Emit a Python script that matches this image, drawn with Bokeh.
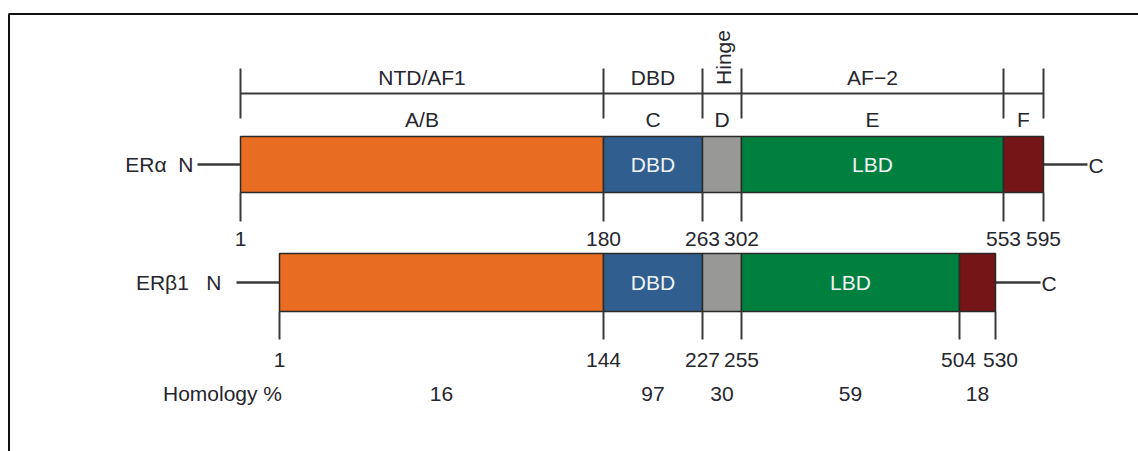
from bokeh.plotting import figure
from bokeh.models import Range1d, ColumnDataSource
from bokeh.core.properties import value
from bokeh.embed import file_html
from bokeh.resources import INLINE

# ---------------- data ----------------
domains = ["A/B", "C", "D", "E", "F"]
functions = ["NTD/AF1", "DBD", "Hinge", "AF\u22122"]
domain_colors = ["#E86C22", "#2F5E8F", "#989896", "#00803F", "#761517"]
bar_labels = ["", "DBD", "", "LBD", ""]

era_residues = [1, 180, 263, 302, 553, 595]
erb_residues = [1, 144, 227, 255, 504, 530]
# schematic (drawn) positions of the domain boundaries
era_schematic = [240, 603, 702, 741, 1003, 1043]
erb_schematic = [279, 603, 702, 741, 959, 995]

homology = [16, 97, 30, 59, 18]

# small horizontal nudges of the residue labels (screen px), to avoid overlaps
erb_label_nudge = [0, 0, 0, 0, -1, 5]

# ---------------- figure ----------------
W, H = 1138, 451
p = figure(width=W, height=H, output_backend="svg", toolbar_location=None,
           x_range=Range1d(0, W), y_range=Range1d(H, 0),
           min_border=0)
p.axis.visible = False
p.grid.visible = False
p.outline_line_color = None
p.background_fill_color = "white"

FONT = value("Liberation Sans")
FS = "21px"
TXT = "#26262e"
LINE = "#3a3a3a"

# frame (top and left visible)
p.line([8.5, 8.5, W + 5], [H + 5, 13.5, 13.5], line_color="#111111", line_width=2)

def mids(a):
    return [(a[i] + a[i + 1]) / 2 for i in range(len(a) - 1)]

def bar(pos, top, bot, nx_start, cx_end, name, name_x):
    src = ColumnDataSource(dict(left=pos[:-1], right=pos[1:], color=domain_colors,
                                lab=bar_labels, cx=mids(pos)))
    yc = (top + bot) / 2
    # N and C terminal lines
    p.line([nx_start, pos[0]], [yc, yc], line_color=LINE, line_width=2.5)
    p.line([pos[-1], cx_end], [yc, yc], line_color=LINE, line_width=2.5)
    p.quad(left="left", right="right", top=top, bottom=bot, fill_color="color",
           line_color="#2a2a2a", line_width=1.5, source=src)
    p.text(x="cx", y=yc, text="lab", source=src, text_color="#eef2f5",
           text_font=FONT, text_font_size=FS, text_align="center", text_baseline="middle")
    p.text(x=[name_x], y=[yc], text=[name], text_color=TXT, text_font=FONT,
           text_font_size=FS, text_align="right", text_baseline="middle")
    p.text(x=[cx_end + 1], y=[yc + 1], text=["C"], text_color=TXT, text_font=FONT,
           text_font_size=FS, text_align="left", text_baseline="middle")

# ---- ERα ----
ya_top, ya_bot = 136, 192
bar(era_schematic, ya_top, ya_bot, 197, 1087, "ER\u03b1\u00a0\u00a0N", 193)
# top bracket
p.line([era_schematic[0], era_schematic[-1]], [93, 93], line_color=LINE, line_width=2)
p.segment(x0=era_schematic, y0=68, x1=era_schematic, y1=118, line_color=LINE, line_width=2)
cx_a = mids(era_schematic)
p.text(x=cx_a[:2] + [cx_a[3]], y=77, text=[functions[0], functions[1], functions[3]],
       text_color=TXT, text_font=FONT, text_font_size=FS, text_align="center",
       text_baseline="middle")
p.text(x=[cx_a[2] + 1], y=[57], text=[functions[2]], angle=1.5708,
       text_color=TXT, text_font=FONT, text_font_size=FS, text_align="center",
       text_baseline="middle")
p.text(x=cx_a, y=119, text=domains, text_color=TXT, text_font=FONT,
       text_font_size=FS, text_align="center", text_baseline="middle")
# bottom ticks and residue numbers
p.segment(x0=era_schematic, y0=ya_bot, x1=era_schematic, y1=221, line_color=LINE, line_width=2)
p.text(x=era_schematic, y=238, text=[str(v) for v in era_residues], text_color=TXT,
       text_font=FONT, text_font_size=FS, text_align="center", text_baseline="middle")

# ---- ERβ1 ----
yb_top, yb_bot = 253, 311
bar(erb_schematic, yb_top, yb_bot, 236, 1040, "ER\u03b21\u00a0\u00a0\u00a0N", 221)
p.segment(x0=erb_schematic, y0=yb_bot, x1=erb_schematic, y1=339, line_color=LINE, line_width=2)
p.text(x=erb_schematic, y=359, x_offset=erb_label_nudge,
       text=[str(v) for v in erb_residues], text_color=TXT,
       text_font=FONT, text_font_size=FS, text_align="center", text_baseline="middle")

# ---- homology ----
p.text(x=[222], y=[393], text=["Homology %"], text_color=TXT, text_font=FONT,
       text_font_size=FS, text_align="center", text_baseline="middle")
p.text(x=mids(erb_schematic), y=393, text=[str(v) for v in homology], text_color=TXT,
       text_font=FONT, text_font_size=FS, text_align="center", text_baseline="middle")

open("out.html", "w").write(file_html(p, INLINE))
